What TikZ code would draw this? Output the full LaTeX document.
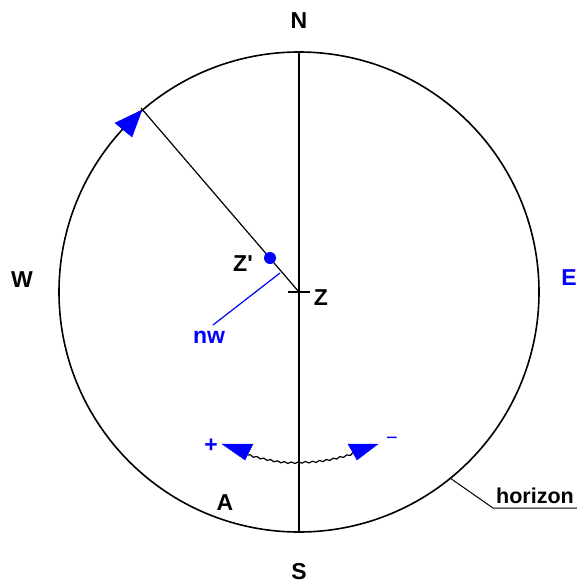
\documentclass[tikz,border=0pt]{standalone}
\usepackage{fontspec}
\setmainfont{Liberation Sans}
\usetikzlibrary{decorations.pathmorphing}
\tikzset{lbl/.style={font=\fontsize{23}{27}\selectfont\bfseries, inner sep=0pt},
    tip/.style={fill=blue, draw=blue, line width=0.4pt}}
\begin{document}
\begin{tikzpicture}[x=1pt,y=-1pt]
    \useasboundingbox (0,0) rectangle (577,584);
    \coordinate (Z) at (299,292);
    \coordinate (N0) at (299,52);
    \coordinate (S0) at (299,532);
    \coordinate (P) at (141,108);
    \coordinate (H) at (450,478);
    \draw [line width=1.6pt] (Z) circle [radius=240pt];
    \draw [line width=1.4pt] (N0) -- (S0);
    \draw [line width=1.2pt] (P) -- (Z);
    \draw [line width=1.2pt] (288,292) -- (310,292);
    \fill [blue] (270,258) circle [radius=6pt];
    \draw [blue, line width=1.2pt] (280,273) -- (213,325);
    \draw [line width=1.2pt, decorate, decoration={snake, amplitude=0.8pt, segment length=7pt}]
        (248,455) .. controls (275,462) and (285,463) .. (299,462) .. controls (315,462) and (330,460) .. (353,453);
    \draw [line width=1pt] (H) -- (493,508) -- (577,508);
    % blue arrow tips
    \filldraw [tip] (115,123) -- (142,110) -- (132,137) -- cycle;
    \filldraw [tip] (222,444) -- (253,444) -- (245,460) -- cycle;
    \filldraw [tip] (378,444) -- (348,444) -- (357,460) -- cycle;
    % labels
    \node [lbl] (n) at (299,21) {N};
    \node [lbl] (s) at (299,572) {S};
    \node [lbl] (w) at (22,280) {W};
    \node [lbl, blue] (e) at (569,278) {E};
    \node [lbl] (z) at (321,298) {Z};
    \node [lbl] (zp) at (243,264) {Z\textquotesingle};
    \node [lbl, blue] (nw) at (209,337) {nw};
    \node [lbl] (a) at (225,503) {A};
    \node [lbl, blue] (plus) at (211,446) {+};
    \node [lbl, blue, font=\fontsize{20}{24}\selectfont] (minus) at (392,441) {−};
    \node [lbl, font=\fontsize{21.5}{26}\selectfont\bfseries, anchor=base west] (hz) at (496,503) {horizon};
\end{tikzpicture}
\end{document}
